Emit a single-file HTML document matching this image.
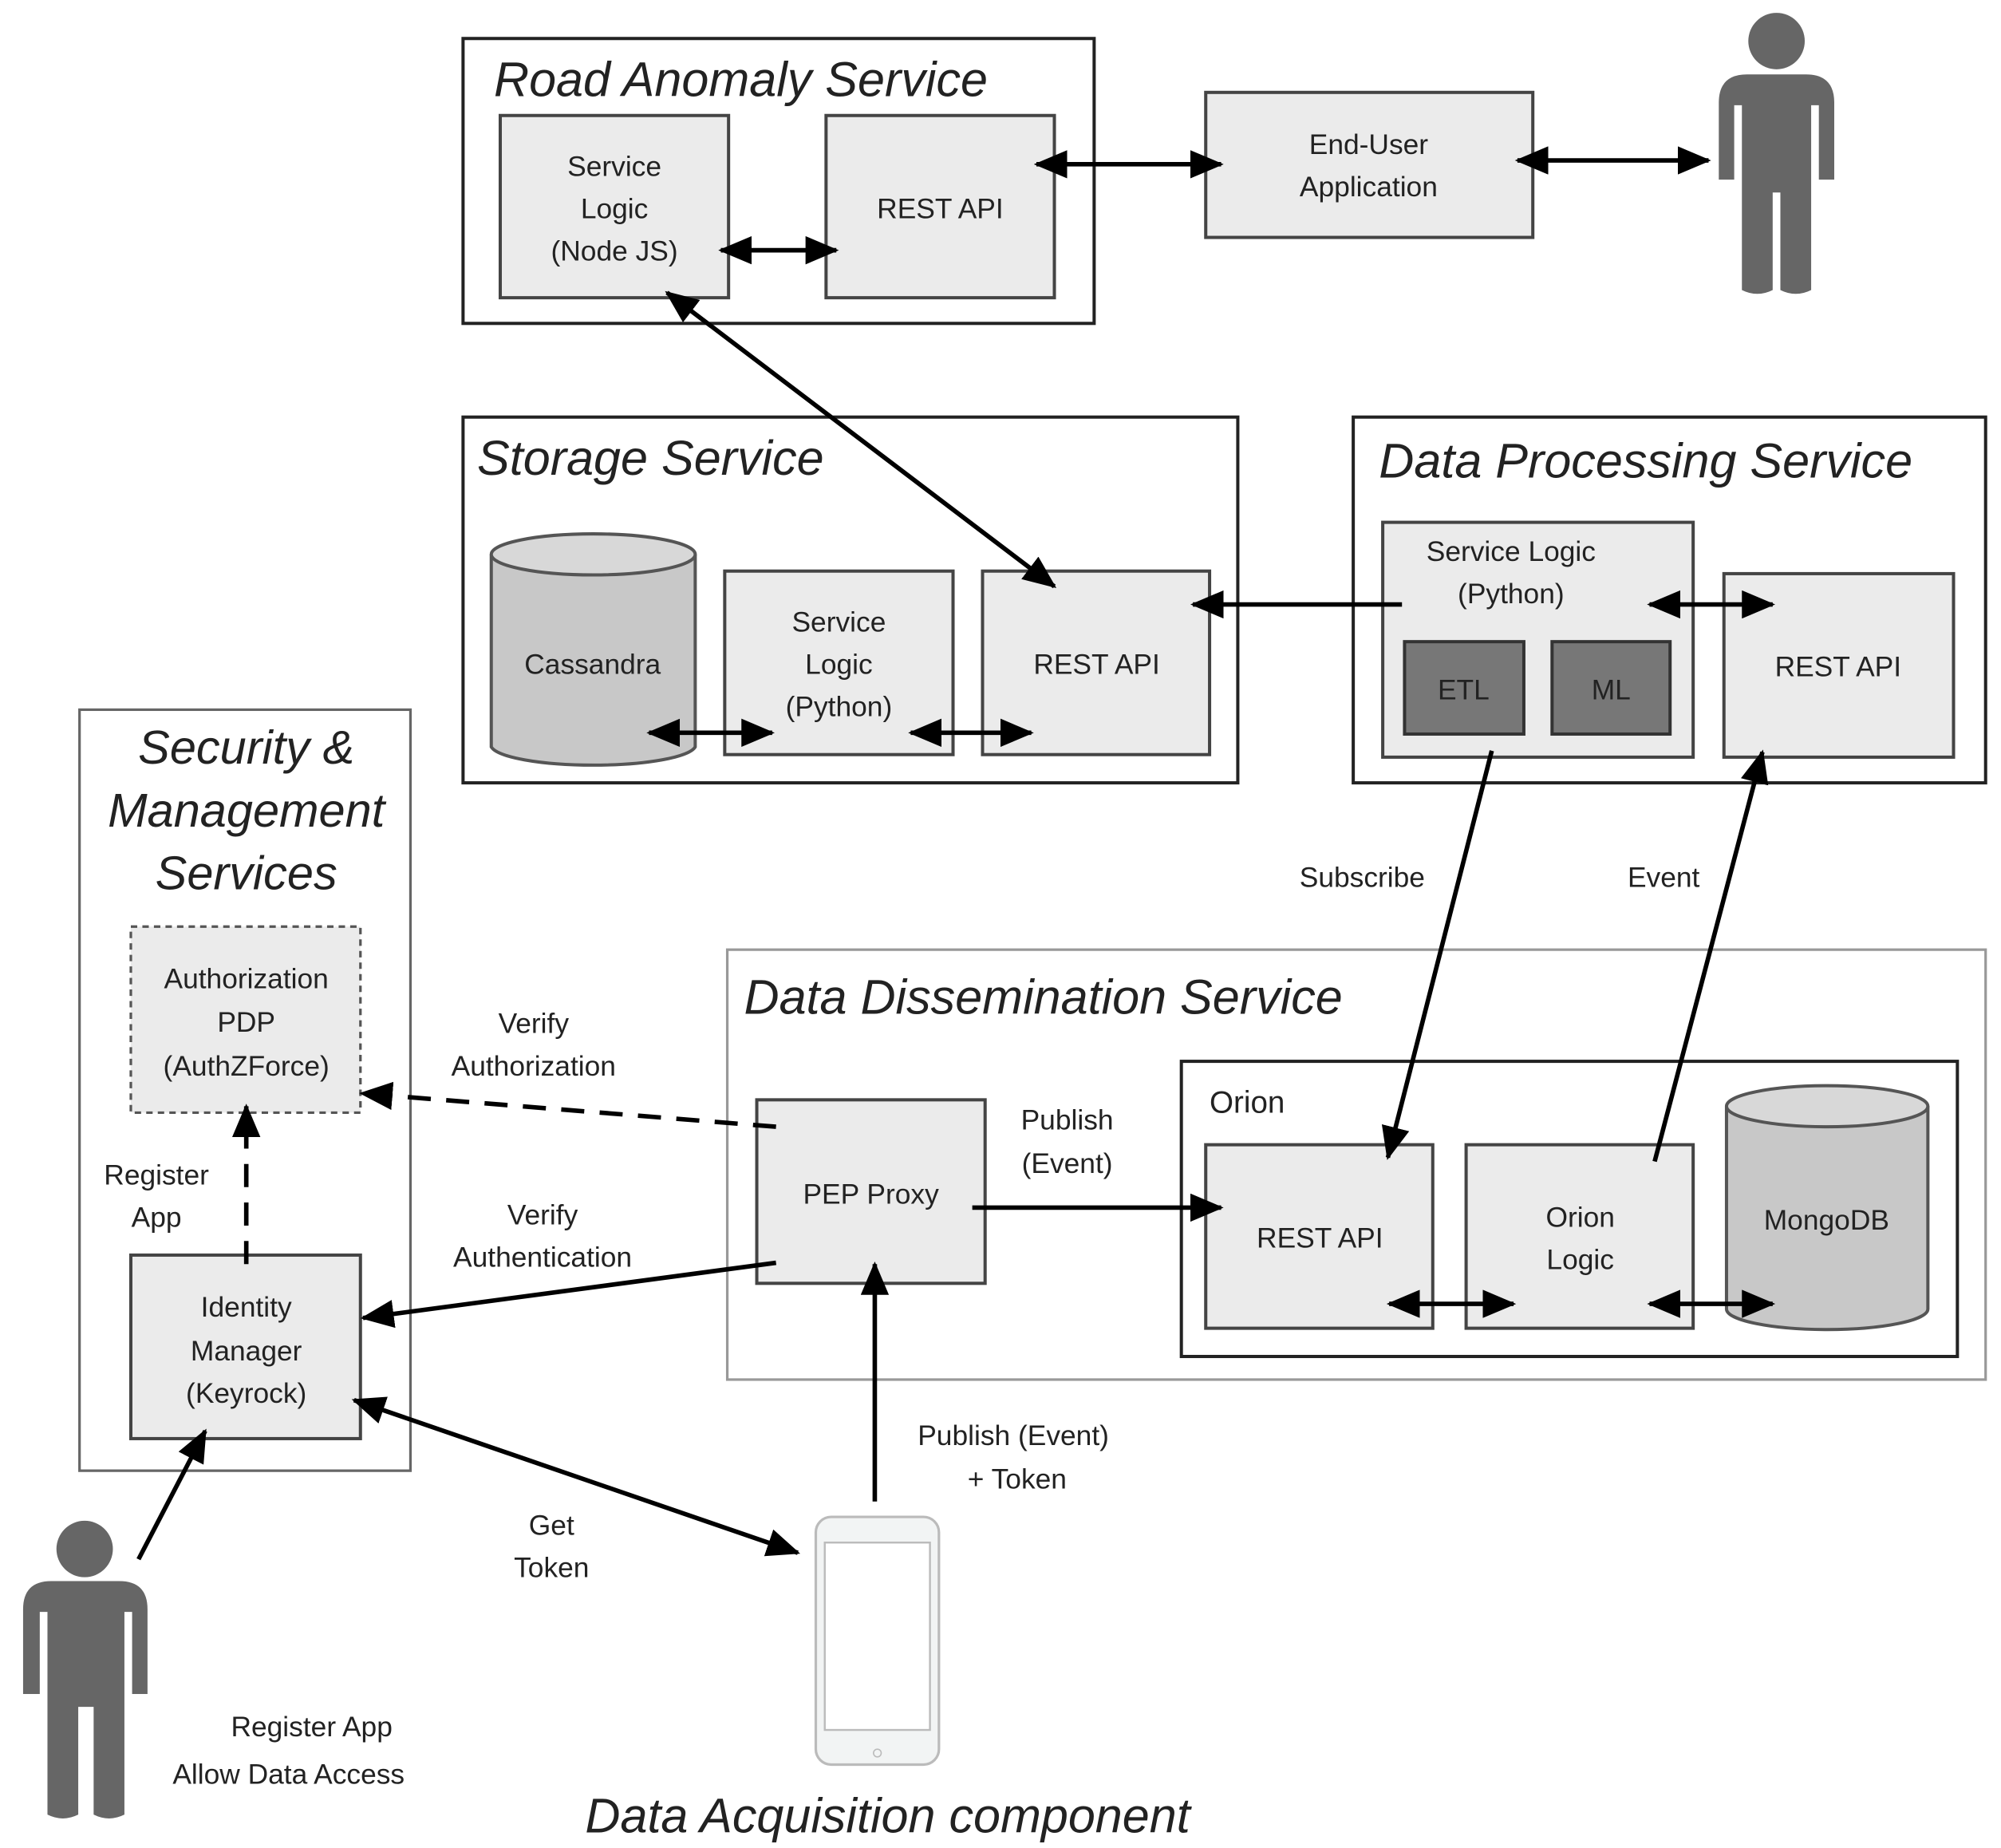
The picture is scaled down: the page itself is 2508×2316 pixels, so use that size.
<!DOCTYPE html>
<html><head><meta charset="utf-8"><style>
html,body{margin:0;padding:0;background:#fff;}
svg{display:block;}
text{font-family:"Liberation Sans",sans-serif;fill:#222;}
.t{font-size:22px;text-anchor:middle;}
.h{font-size:38px;font-style:italic;}
.b{fill:#ebebeb;stroke:#444;stroke-width:2.5;}
.o{fill:#fff;stroke:#222;stroke-width:2.5;}
.l{stroke:#000;stroke-width:3.5;fill:none;}
</style></head><body>
<svg width="2508" height="2316" viewBox="0 0 1560 1440" preserveAspectRatio="none" xmlns="http://www.w3.org/2000/svg">
<defs>
<marker id="A" markerWidth="26" markerHeight="22" refX="24" refY="11" orient="auto-start-reverse" markerUnits="userSpaceOnUse"><path d="M0,0 L26,11 L0,22 z" fill="#000"/></marker>
</defs>
<!-- Road Anomaly -->
<rect class="o" x="361" y="30" width="492" height="222"/>
<text class="h" x="385" y="75">Road Anomaly Service</text>
<rect class="b" x="390" y="90" width="178" height="142"/>
<text class="t" x="479" y="137">Service</text><text class="t" x="479" y="170">Logic</text><text class="t" x="479" y="203">(Node JS)</text>
<rect class="b" x="644" y="90" width="178" height="142"/>
<text class="t" x="733" y="170">REST API</text>
<line class="l" x1="562" y1="195" x2="652" y2="195" marker-start="url(#A)" marker-end="url(#A)"/>
<rect class="b" x="940" y="72" width="255" height="113"/>
<text class="t" x="1067" y="120">End-User</text><text class="t" x="1067" y="153">Application</text>
<line class="l" x1="808" y1="128" x2="952" y2="128" marker-start="url(#A)" marker-end="url(#A)"/>
<line class="l" x1="1183" y1="125" x2="1332" y2="125" marker-start="url(#A)" marker-end="url(#A)"/>
<g fill="#666">
<circle cx="1385" cy="32" r="22"/>
<path d="M1340,80 Q1340,58 1362,58 L1408,58 Q1430,58 1430,80 L1430,140 L1418,140 L1418,82 L1412,82 L1412,226 Q1400,232 1388,226 L1388,150 L1382,150 L1382,226 Q1370,232 1358,226 L1358,82 L1352,82 L1352,140 L1340,140 Z"/>
</g>
<!-- Storage -->
<rect class="o" x="361" y="325" width="604" height="285"/>
<text class="h" x="372" y="370">Storage Service</text>
<path d="M383,432 L383,582 A80,16 0 0 0 542,582 L542,432" fill="#c8c8c8" stroke="#555" stroke-width="2.5"/>
<ellipse cx="462.5" cy="432" rx="79.5" ry="16" fill="#d8d8d8" stroke="#555" stroke-width="2.5"/>
<text class="t" x="462" y="525">Cassandra</text>
<rect class="b" x="565" y="445" width="178" height="143"/>
<text class="t" x="654" y="492">Service</text><text class="t" x="654" y="525">Logic</text><text class="t" x="654" y="558">(Python)</text>
<rect class="b" x="766" y="445" width="177" height="143"/>
<text class="t" x="855" y="525">REST API</text>
<line class="l" x1="506" y1="571" x2="602" y2="571" marker-start="url(#A)" marker-end="url(#A)"/>
<line class="l" x1="710" y1="571" x2="804" y2="571" marker-start="url(#A)" marker-end="url(#A)"/>
<line class="l" x1="520" y1="228" x2="822" y2="457" marker-start="url(#A)" marker-end="url(#A)"/>
<!-- Data Processing -->
<rect class="o" x="1055" y="325" width="493" height="285"/>
<text class="h" x="1075" y="372">Data Processing Service</text>
<rect class="b" x="1078" y="407" width="242" height="183"/>
<text class="t" x="1178" y="437">Service Logic</text><text class="t" x="1178" y="470">(Python)</text>
<rect x="1095" y="500" width="93" height="72" fill="#777" stroke="#333" stroke-width="2.5"/>
<text class="t" x="1141" y="545">ETL</text>
<rect x="1210" y="500" width="92" height="72" fill="#777" stroke="#333" stroke-width="2.5"/>
<text class="t" x="1256" y="545">ML</text>
<rect class="b" x="1344" y="447" width="179" height="143"/>
<text class="t" x="1433" y="527">REST API</text>
<line class="l" x1="1286" y1="471" x2="1382" y2="471" marker-start="url(#A)" marker-end="url(#A)"/>
<line class="l" x1="1093" y1="471" x2="930" y2="471" marker-end="url(#A)"/>
<text class="t" x="1062" y="691">Subscribe</text>
<text class="t" x="1297" y="691">Event</text>
<!-- Data Dissemination -->
<rect x="567" y="740" width="981" height="335" fill="#fff" stroke="#999" stroke-width="2"/>
<text class="h" x="580" y="790">Data Dissemination Service</text>
<rect class="o" x="921" y="827" width="605" height="230"/>
<text x="943" y="867" style="font-size:24px">Orion</text>
<rect class="b" x="940" y="892" width="177" height="143"/>
<text class="t" x="1029" y="972">REST API</text>
<rect class="b" x="1143" y="892" width="177" height="143"/>
<text class="t" x="1232" y="956">Orion</text><text class="t" x="1232" y="989">Logic</text>
<path d="M1346,862 L1346,1020 A78.5,16 0 0 0 1503,1020 L1503,862" fill="#c8c8c8" stroke="#555" stroke-width="2.5"/>
<ellipse cx="1424.5" cy="862" rx="78.5" ry="16" fill="#d8d8d8" stroke="#555" stroke-width="2.5"/>
<text class="t" x="1424" y="958">MongoDB</text>
<line class="l" x1="1083" y1="1016" x2="1180" y2="1016" marker-start="url(#A)" marker-end="url(#A)"/>
<line class="l" x1="1286" y1="1016" x2="1382" y2="1016" marker-start="url(#A)" marker-end="url(#A)"/>
<rect class="b" x="590" y="857" width="178" height="143"/>
<text class="t" x="679" y="938">PEP Proxy</text>
<text class="t" x="832" y="880">Publish</text><text class="t" x="832" y="914">(Event)</text>
<line class="l" x1="758" y1="941" x2="952" y2="941" marker-end="url(#A)"/>
<line class="l" x1="1163" y1="585" x2="1082" y2="902" marker-end="url(#A)"/>
<line class="l" x1="1290" y1="905" x2="1374" y2="586" marker-end="url(#A)"/>
<!-- Security -->
<rect x="62" y="553" width="258" height="593" fill="#fff" stroke="#666" stroke-width="2"/>
<text class="h t" x="192" y="595" style="font-size:37px">Security &amp;</text>
<text class="h t" x="192" y="644" style="font-size:37px">Management</text>
<text class="h t" x="192" y="693" style="font-size:37px">Services</text>
<rect x="102" y="722" width="179" height="145" fill="#ebebeb" stroke="#555" stroke-width="2" stroke-dasharray="5,4"/>
<text class="t" x="192" y="770">Authorization</text><text class="t" x="192" y="804">PDP</text><text class="t" x="192" y="838">(AuthZForce)</text>
<rect class="b" x="102" y="978" width="179" height="143"/>
<text class="t" x="192" y="1026">Identity</text><text class="t" x="192" y="1060">Manager</text><text class="t" x="192" y="1093">(Keyrock)</text>
<line class="l" x1="192" y1="985" x2="192" y2="862" stroke-dasharray="18,12" marker-end="url(#A)"/>
<text class="t" x="122" y="923">Register</text><text class="t" x="122" y="956">App</text>
<line class="l" x1="605" y1="878" x2="282" y2="852" stroke-dasharray="18,12" marker-end="url(#A)"/>
<text class="t" x="416" y="805">Verify</text><text class="t" x="416" y="838">Authorization</text>
<line class="l" x1="605" y1="984" x2="283" y2="1027" marker-end="url(#A)"/>
<text class="t" x="423" y="954">Verify</text><text class="t" x="423" y="987">Authentication</text>
<line class="l" x1="276" y1="1091" x2="622" y2="1210" marker-start="url(#A)" marker-end="url(#A)"/>
<text class="t" x="430" y="1196">Get</text><text class="t" x="430" y="1229">Token</text>
<rect x="636" y="1182" width="96" height="193" rx="12" fill="#f2f4f4" stroke="#bbb" stroke-width="2"/>
<rect x="643" y="1202" width="82" height="146" fill="#fff" stroke="#bbb" stroke-width="1.5"/>
<circle cx="684" cy="1366" r="3" fill="none" stroke="#bbb"/>
<line class="l" x1="682" y1="1170" x2="682" y2="985" marker-end="url(#A)"/>
<text class="t" x="790" y="1126">Publish (Event)</text><text class="t" x="793" y="1160">+ Token</text>
<g fill="#666">
<circle cx="66" cy="1207" r="22"/>
<path d="M18,1254 Q18,1232 40,1232 L93,1232 Q115,1232 115,1254 L115,1320 L103,1320 L103,1256 L97,1256 L97,1414 Q85,1420 73,1414 L73,1330 L61,1330 L61,1414 Q49,1420 37,1414 L37,1256 L31,1256 L31,1320 L18,1320 Z"/>
</g>
<line class="l" x1="108" y1="1215" x2="160" y2="1115" marker-end="url(#A)"/>
<text class="t" x="243" y="1353">Register App</text>
<text class="t" x="225" y="1390">Allow Data Access</text>
<text class="h t" x="692" y="1428">Data Acquisition component</text>
</svg>
</body></html>
